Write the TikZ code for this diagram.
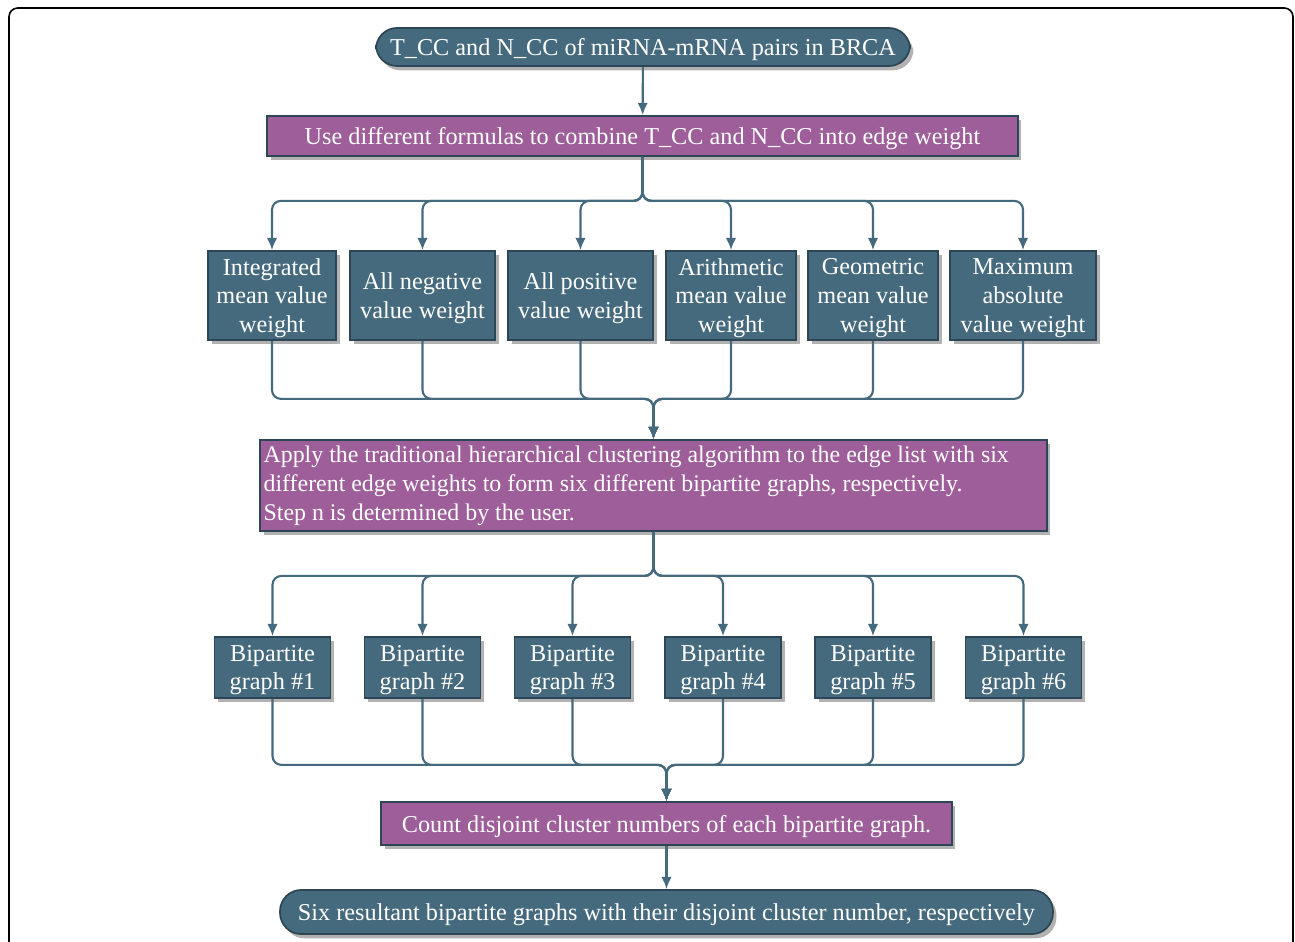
\documentclass[tikz,border=0pt]{standalone}
\usepackage{fontspec}
\setmainfont{Liberation Serif}
\usetikzlibrary{arrows.meta, shadows}

\definecolor{slate}{RGB}{70,106,125}
\definecolor{slateline}{RGB}{44,70,86}
\definecolor{plum}{RGB}{157,94,153}

\begin{document}
\begin{tikzpicture}[x=0.02cm, y=-0.02cm, every node/.style={font=\fontsize{13.8}{16.4}\selectfont, text=white}, >={Latex[length=7pt,width=6pt]}]
  % Define styles
  \tikzstyle{shade} = [drop shadow={shadow xshift=2pt, shadow yshift=-2.5pt, opacity=0.3, fill=black}]
  \tikzstyle{pill} = [rectangle, rounded corners=0.42cm, draw=slateline, line width=1pt, fill=slate, shade, text centered, text depth=0pt]
  \tikzstyle{task} = [rectangle, draw=slateline, line width=1pt, fill=plum, shade]
  \tikzstyle{block} = [rectangle, draw=slateline, line width=1pt, fill=slate, shade, align=center, inner sep=0pt, text depth=0pt]
  \tikzstyle{conn} = [draw=slate, line width=1.2pt, rounded corners=5pt]

  \useasboundingbox (0,0) rectangle (1295,942);
  \draw[line width=0.9pt, rounded corners=5pt] (9,942) -- (9,8) -- (1293,8) -- (1293,942);

  % Nodes
  \node[pill, minimum width=10.68cm, minimum height=0.76cm] (data) at (643,47) {T\_CC and N\_CC of miRNA-mRNA pairs in BRCA};
  \node[task, text depth=0pt, minimum width=15.02cm, minimum height=0.8cm] (combine) at (642.5,136) {Use different formulas to combine T\_CC and N\_CC into edge weight};

  \node[block, minimum width=2.56cm, minimum height=1.78cm] (w1) at (272,295.5) {Integrated\\mean value\\weight};
  \node[block, minimum width=2.9cm, minimum height=1.78cm] (w2) at (422.5,295.5) {All negative\\value weight};
  \node[block, minimum width=2.9cm, minimum height=1.78cm] (w3) at (580.5,295.5) {All positive\\value weight};
  \node[block, minimum width=2.6cm, minimum height=1.78cm] (w4) at (731,295.5) {Arithmetic\\mean value\\weight};
  \node[block, minimum width=2.6cm, minimum height=1.78cm] (w5) at (873,295.5) {Geometric\\mean value\\weight};
  \node[block, minimum width=2.92cm, minimum height=1.78cm] (w6) at (1023,295.5) {Maximum\\absolute\\value weight};

  \node[task, text width=15.6cm, inner xsep=0.07cm, minimum height=1.82cm, align=flush left, font=\fontsize{13.6}{16.4}\selectfont] (cluster) at (653.5,485.5) {Apply the traditional hierarchical clustering algorithm to the edge list with six\\different edge weights to form six different bipartite graphs, respectively.\\Step n is determined by the user.};

  \node[block, minimum width=2.32cm, minimum height=1.22cm] (g1) at (272.5,667.5) {Bipartite\\graph \#1};
  \node[block, minimum width=2.32cm, minimum height=1.22cm] (g2) at (422.5,667.5) {Bipartite\\graph \#2};
  \node[block, minimum width=2.32cm, minimum height=1.22cm] (g3) at (572.5,667.5) {Bipartite\\graph \#3};
  \node[block, minimum width=2.32cm, minimum height=1.22cm] (g4) at (723,667.5) {Bipartite\\graph \#4};
  \node[block, minimum width=2.32cm, minimum height=1.22cm] (g5) at (873,667.5) {Bipartite\\graph \#5};
  \node[block, minimum width=2.32cm, minimum height=1.22cm] (g6) at (1023.5,667.5) {Bipartite\\graph \#6};

  \node[task, text depth=0pt, minimum width=11.42cm, minimum height=0.86cm] (count) at (666.5,823.5) {Count disjoint cluster numbers of each bipartite graph.};
  \node[pill, minimum width=15.46cm, minimum height=0.88cm] (result) at (666.5,912) {Six resultant bipartite graphs with their disjoint cluster number, respectively};

  % Arrows
  \draw[->, conn] (data) -- (combine);
  \draw[->, conn] (combine.south) -- ++(0,44) -| (w1.north);
  \draw[->, conn] (combine.south) -- ++(0,44) -| (w2.north);
  \draw[->, conn] (combine.south) -- ++(0,44) -| (w3.north);
  \draw[->, conn] (combine.south) -- ++(0,44) -| (w4.north);
  \draw[->, conn] (combine.south) -- ++(0,44) -| (w5.north);
  \draw[->, conn] (combine.south) -- ++(0,44) -| (w6.north);

  \draw[->, conn] (w1.south) -- ++(0,58) -| (cluster.north);
  \draw[->, conn] (w2.south) -- ++(0,58) -| (cluster.north);
  \draw[->, conn] (w3.south) -- ++(0,58) -| (cluster.north);
  \draw[->, conn] (w4.south) -- ++(0,58) -| (cluster.north);
  \draw[->, conn] (w5.south) -- ++(0,58) -| (cluster.north);
  \draw[->, conn] (w6.south) -- ++(0,58) -| (cluster.north);

  \draw[->, conn] (cluster.south) -- ++(0,44) -| (g1.north);
  \draw[->, conn] (cluster.south) -- ++(0,44) -| (g2.north);
  \draw[->, conn] (cluster.south) -- ++(0,44) -| (g3.north);
  \draw[->, conn] (cluster.south) -- ++(0,44) -| (g4.north);
  \draw[->, conn] (cluster.south) -- ++(0,44) -| (g5.north);
  \draw[->, conn] (cluster.south) -- ++(0,44) -| (g6.north);

  \draw[->, conn] (g1.south) -- ++(0,66) -| (count.north);
  \draw[->, conn] (g2.south) -- ++(0,66) -| (count.north);
  \draw[->, conn] (g3.south) -- ++(0,66) -| (count.north);
  \draw[->, conn] (g4.south) -- ++(0,66) -| (count.north);
  \draw[->, conn] (g5.south) -- ++(0,66) -| (count.north);
  \draw[->, conn] (g6.south) -- ++(0,66) -| (count.north);

  \draw[->, conn] (count) -- (result);
\end{tikzpicture}
\end{document}
